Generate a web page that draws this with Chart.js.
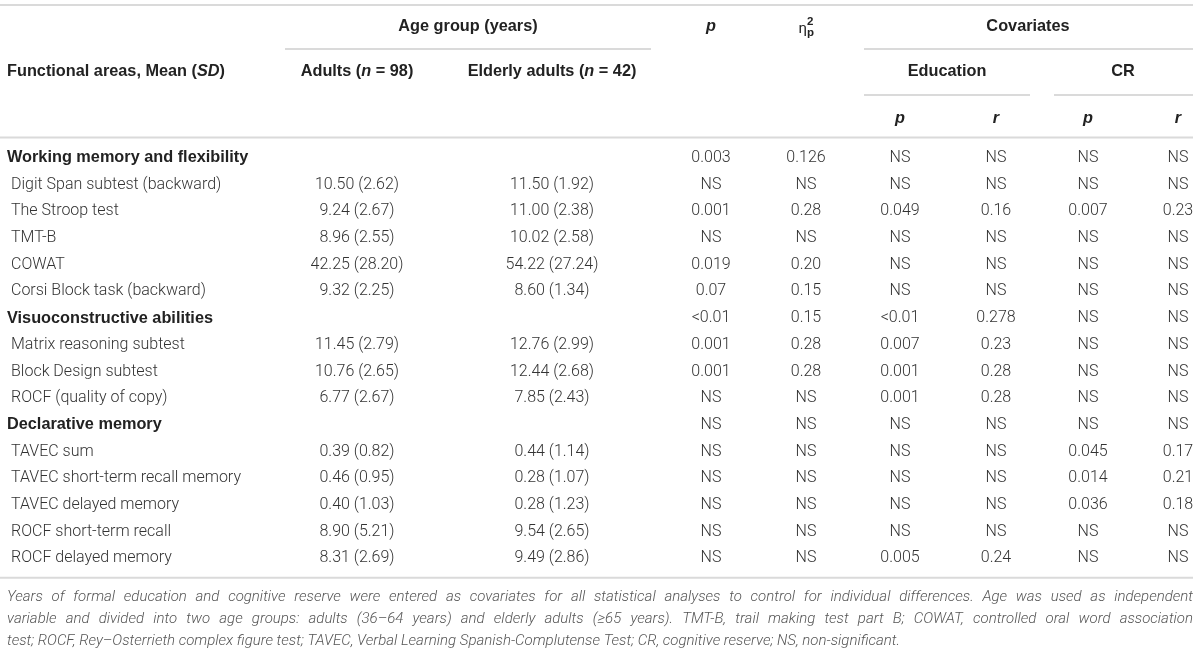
<!DOCTYPE html>
<html>
<head>
<meta charset="utf-8">
<script src="https://cdn.jsdelivr.net/npm/chart.js@4.4.0/dist/chart.umd.min.js"></script>
<style>
  body { margin: 0; background: #fff; }
  #wrap { width: 1200px; height: 651px; position: relative; }
</style>
</head>
<body>
<div id="wrap"><canvas id="tbl"></canvas></div>
<script>
// rows of the table
const rowLabels = [
  'Working memory and flexibility',
  'Digit Span subtest (backward)',
  'The Stroop test',
  'TMT-B',
  'COWAT',
  'Corsi Block task (backward)',
  'Visuoconstructive abilities',
  'Matrix reasoning subtest',
  'Block Design subtest',
  'ROCF (quality of copy)',
  'Declarative memory',
  'TAVEC sum',
  'TAVEC short-term recall memory',
  'TAVEC delayed memory',
  'ROCF short-term recall',
  'ROCF delayed memory'
];
const headingRows = [0, 6, 10];

// means and SDs per age group
const adultMean   = [null, 10.50, 9.24, 8.96, 42.25, 9.32, null, 11.45, 10.76, 6.77, null, 0.39, 0.46, 0.40, 8.90, 8.31];
const adultSD     = [null, 2.62, 2.67, 2.55, 28.20, 2.25, null, 2.79, 2.65, 2.67, null, 0.82, 0.95, 1.03, 5.21, 2.69];
const elderlyMean = [null, 11.50, 11.00, 10.02, 54.22, 8.60, null, 12.76, 12.44, 7.85, null, 0.44, 0.28, 0.28, 9.54, 9.49];
const elderlySD   = [null, 1.92, 2.38, 2.58, 27.24, 1.34, null, 2.99, 2.68, 2.43, null, 1.14, 1.07, 1.23, 2.65, 2.86];

// statistics
const pAge  = ['0.003', 'NS', '0.001', 'NS', '0.019', '0.07', '<0.01', '0.001', '0.001', 'NS', 'NS', 'NS', 'NS', 'NS', 'NS', 'NS'];
const etaSq = ['0.126', 'NS', '0.28', 'NS', '0.20', '0.15', '0.15', '0.28', '0.28', 'NS', 'NS', 'NS', 'NS', 'NS', 'NS', 'NS'];
const eduP  = ['NS', 'NS', '0.049', 'NS', 'NS', 'NS', '<0.01', '0.007', '0.001', '0.001', 'NS', 'NS', 'NS', 'NS', 'NS', '0.005'];
const eduR  = ['NS', 'NS', '0.16', 'NS', 'NS', 'NS', '0.278', '0.23', '0.28', '0.28', 'NS', 'NS', 'NS', 'NS', 'NS', '0.24'];
const crP   = ['NS', 'NS', '0.007', 'NS', 'NS', 'NS', 'NS', 'NS', 'NS', 'NS', 'NS', '0.045', '0.014', '0.036', 'NS', 'NS'];
const crR   = ['NS', 'NS', '0.23', 'NS', 'NS', 'NS', 'NS', 'NS', 'NS', 'NS', 'NS', '0.17', '0.21', '0.18', 'NS', 'NS'];

const footnoteLines = [
  'Years of formal education and cognitive reserve were entered as covariates for all statistical analyses to control for individual differences. Age was used as independent',
  'variable and divided into two age groups: adults (36\u201364 years) and elderly adults (\u226565 years). TMT-B, trail making test part B; COWAT, controlled oral word association',
  'test; ROCF, Rey\u2013Osterrieth complex figure test; TAVEC, Verbal Learning Spanish-Complutense Test; CR, cognitive reserve; NS, non-significant.'
];

// layout (x in scale units, the x scale runs over the page width)
const colX = { heading: 7, item: 11, adult: 357, elderly: 552, p: 711, eta: 806, eduP: 900, eduR: 996, crP: 1088, crR: 1178 };
const BODY_FONT = 'Roboto, "Liberation Sans", Arial, sans-serif';
const HEAD_FONT = '"Liberation Sans", Arial, sans-serif';
const HEAD_SIZE = 16.3;
const TEXT = '#333';
const RULE = '#dadada';

function fmt(m, s) {
  if (m == null) return null;
  return m.toFixed(2) + ' (' + s.toFixed(2) + ')';
}

function colData(xKey) {
  return rowLabels.map(r => ({ x: colX[xKey], y: r }));
}

const datasets = [
  { label: 'label', isLabel: true, texts: rowLabels,
    data: rowLabels.map((r, i) => ({ x: headingRows.includes(i) ? colX.heading : colX.item, y: r })) },
  { label: 'adult', texts: adultMean.map((m, i) => fmt(m, adultSD[i])), data: colData('adult') },
  { label: 'elderly', texts: elderlyMean.map((m, i) => fmt(m, elderlySD[i])), data: colData('elderly') },
  { label: 'p', texts: pAge, data: colData('p') },
  { label: 'eta', texts: etaSq, data: colData('eta') },
  { label: 'eduP', texts: eduP, data: colData('eduP') },
  { label: 'eduR', texts: eduR, data: colData('eduR') },
  { label: 'crP', texts: crP, data: colData('crP') },
  { label: 'crR', texts: crR, data: colData('crR') }
];

function font(size, weight, italic, family) {
  return (italic ? 'italic ' : '') + weight + ' ' + size + 'px ' + (family || BODY_FONT);
}

// parts: [[text, italic], ...] in the bold header face
function drawRich(ctx, parts, x, y, align) {
  let total = 0;
  parts.forEach(p => { ctx.font = font(HEAD_SIZE, 700, p[1], HEAD_FONT); total += ctx.measureText(p[0]).width; });
  let cx = align === 'center' ? x - total / 2 : x;
  ctx.textAlign = 'left';
  parts.forEach(p => {
    ctx.font = font(HEAD_SIZE, 700, p[1], HEAD_FONT);
    ctx.fillText(p[0], cx, y);
    cx += ctx.measureText(p[0]).width;
  });
}

function drawJustified(ctx, text, x0, x1, y) {
  const words = text.split(' ');
  const widths = words.map(w => ctx.measureText(w).width);
  const sum = widths.reduce((a, b) => a + b, 0);
  const gap = (x1 - x0 - sum) / (words.length - 1);
  let cx = x0;
  ctx.textAlign = 'left';
  words.forEach((w, i) => { ctx.fillText(w, cx, y); cx += widths[i] + gap; });
}

function hline(ctx, xs, a, b, y) {
  ctx.beginPath();
  ctx.moveTo(xs.getPixelForValue(a), y);
  ctx.lineTo(xs.getPixelForValue(b), y);
  ctx.stroke();
}

const tablePlugin = {
  id: 'tableText',
  afterDatasetsDraw(chart) {
    const ctx = chart.ctx;
    const xs = chart.scales.x;
    const area = chart.chartArea;
    ctx.save();
    ctx.textBaseline = 'middle';

    // rules
    ctx.strokeStyle = RULE;
    ctx.lineWidth = 2;
    hline(ctx, xs, 0, 1193, 5);
    hline(ctx, xs, 285, 651, 49);
    hline(ctx, xs, 864, 1193, 49);
    hline(ctx, xs, 864, 1030, 95);
    hline(ctx, xs, 1054, 1193, 95);
    hline(ctx, xs, 0, 1193, area.top - 7);
    hline(ctx, xs, 0, 1193, area.bottom + 6);

    // header
    ctx.fillStyle = '#222';
    const h1 = 27, h2 = 72, h3 = 119;
    drawRich(ctx, [['Age group (years)', false]], xs.getPixelForValue((285 + 651) / 2), h1, 'center');
    drawRich(ctx, [['p', true]], xs.getPixelForValue(colX.p), h1, 'center');
    // eta squared partial
    const ex = xs.getPixelForValue(colX.eta);
    ctx.font = font(15, 400, false);
    ctx.textAlign = 'right';
    ctx.fillText('\u03b7', ex + 1, h1 + 2);
    ctx.textAlign = 'left';
    ctx.font = font(11.5, 700, false, HEAD_FONT);
    ctx.fillText('2', ex + 1, h1 - 5);
    ctx.fillText('p', ex + 1, h1 + 6);
    drawRich(ctx, [['Covariates', false]], xs.getPixelForValue(1028), h1, 'center');

    drawRich(ctx, [['Functional areas, Mean (', false], ['SD', true], [')', false]], xs.getPixelForValue(colX.heading), h2, 'left');
    drawRich(ctx, [['Adults (', false], ['n', true], [' = 98)', false]], xs.getPixelForValue(colX.adult), h2, 'center');
    drawRich(ctx, [['Elderly adults (', false], ['n', true], [' = 42)', false]], xs.getPixelForValue(colX.elderly), h2, 'center');
    drawRich(ctx, [['Education', false]], xs.getPixelForValue(947), h2, 'center');
    drawRich(ctx, [['CR', false]], xs.getPixelForValue(1123), h2, 'center');

    drawRich(ctx, [['p', true]], xs.getPixelForValue(colX.eduP), h3, 'center');
    drawRich(ctx, [['r', true]], xs.getPixelForValue(colX.eduR), h3, 'center');
    drawRich(ctx, [['p', true]], xs.getPixelForValue(colX.crP), h3, 'center');
    drawRich(ctx, [['r', true]], xs.getPixelForValue(colX.crR), h3, 'center');

    // body cells at the points the scales placed
    chart.data.datasets.forEach((ds, di) => {
      const meta = chart.getDatasetMeta(di);
      meta.data.forEach((pt, i) => {
        const t = ds.texts[i];
        if (t == null) return;
        const bold = ds.isLabel && headingRows.includes(i);
        ctx.font = bold ? font(HEAD_SIZE, 700, false, HEAD_FONT) : font(16, 300, false);
        ctx.fillStyle = bold ? '#222' : TEXT;
        ctx.textAlign = ds.isLabel ? 'left' : 'center';
        ctx.fillText(t, pt.x, pt.y);
      });
    });

    // footnote
    ctx.fillStyle = '#555';
    ctx.font = font(15, 300, true);
    const fy = area.bottom + 25;
    footnoteLines.forEach((line, i) => {
      const y = fy + i * 22;
      if (i < footnoteLines.length - 1) {
        drawJustified(ctx, line, xs.getPixelForValue(7), xs.getPixelForValue(1193), y);
      } else {
        ctx.textAlign = 'left';
        ctx.fillText(line, xs.getPixelForValue(7), y);
      }
    });
    ctx.restore();
  }
};

new Chart(document.getElementById('tbl'), {
  type: 'scatter',
  data: { datasets: datasets },
  options: {
    responsive: true,
    maintainAspectRatio: false,
    animation: false,
    layout: { padding: { left: 0, right: 0, top: 144.6, bottom: 79.2 } },
    elements: { point: { radius: 0, hoverRadius: 0 } },
    plugins: { legend: { display: false }, tooltip: { enabled: false } },
    scales: {
      x: { type: 'linear', min: 0, max: 1200, display: false },
      y: { type: 'category', labels: rowLabels, offset: true, display: false }
    }
  },
  plugins: [tablePlugin]
});
</script>
</body>
</html>
